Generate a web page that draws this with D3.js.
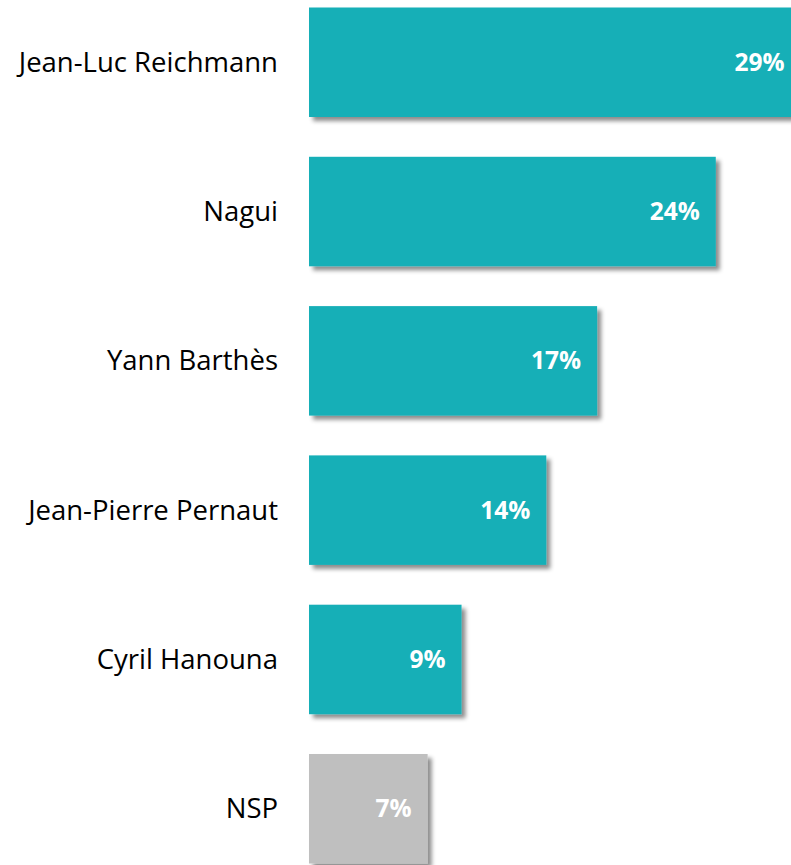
<!DOCTYPE html>
<html><head><meta charset="utf-8">
<script src="https://cdn.jsdelivr.net/npm/d3@7"></script>
<style>body{margin:0;background:#fff;}svg{display:block;}</style>
</head><body>
<script>
const categories = ["Jean-Luc Reichmann","Nagui","Yann Barthès","Jean-Pierre Pernaut","Cyril Hanouna","NSP"];
const values = [29,24,17,14,9,7];
const colors = ["#14afb7","#14afb7","#14afb7","#14afb7","#14afb7","#bfbfbf"];

const W=791,H=865;
const svg=d3.select("body").append("svg").attr("width",W).attr("height",H);
const defs=svg.append("defs");
const f=defs.append("filter").attr("id","sh").attr("x","-10%").attr("y","-10%").attr("width","130%").attr("height","130%");
f.append("feDropShadow").attr("dx",4).attr("dy",4).attr("stdDeviation",2.2).attr("flood-color","#000").attr("flood-opacity",0.45);

const x=d3.scaleLinear().domain([0,29]).range([309,800.5]);
const y=d3.scaleBand().domain(categories).range([7.5,863.5]).paddingInner(0.2666).paddingOuter(0);

const g=svg.selectAll("g.bar").data(categories).enter().append("g");
g.append("rect").attr("x",x(0)).attr("y",d=>y(d)).attr("width",(d,i)=>x(values[i])-x(0))
 .attr("height",y.bandwidth()).attr("fill",(d,i)=>colors[i]).attr("filter","url(#sh)");
g.append("text").attr("x",x(0)-31).attr("y",d=>y(d)+y.bandwidth()/2).attr("dy","0.35em")
 .attr("text-anchor","end").attr("font-family","Open Sans, sans-serif").attr("font-size",27.5).attr("fill","#000")
 .text(d=>d);
g.append("text").attr("x",(d,i)=>x(values[i])-16).attr("y",d=>y(d)+y.bandwidth()/2).attr("dy","0.35em")
 .attr("text-anchor","end").attr("font-family","Open Sans, sans-serif").attr("font-weight","bold").attr("font-size",24.5).attr("fill","#fff")
 .text((d,i)=>values[i]+"%");
</script>
</body></html>
